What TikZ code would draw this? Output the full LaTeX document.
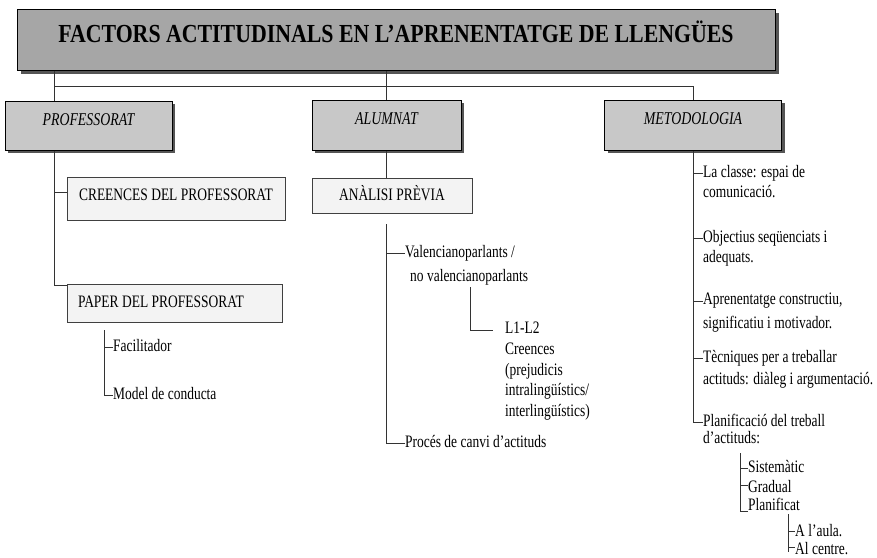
\documentclass[tikz,border=0pt]{standalone}
\usepackage{xcolor}
\usepackage{fontspec}
\setmainfont[FakeStretch=0.77]{Liberation Serif}
\newfontfamily\titlefont[FakeStretch=0.84]{Liberation Serif}
\usepackage{tikz}
\usetikzlibrary{positioning,shadows}

\definecolor{titlegray}{RGB}{166,166,166}
\definecolor{headgray}{RGB}{200,200,200}
\definecolor{boxgray}{RGB}{243,243,243}
\definecolor{shadowgray}{RGB}{85,85,85}

\tikzset{
  titlebox/.style={draw=black,line width=1pt,fill=titlegray,inner sep=0pt,
    drop shadow={shadow xshift=4pt,shadow yshift=-4pt,fill=shadowgray,opacity=1},
    font=\titlefont\fontsize{26}{30}\selectfont\bfseries,text height=18pt,text depth=13pt},
  headbox/.style={draw=black,line width=1pt,fill=headgray,inner sep=0pt,
    drop shadow={shadow xshift=3pt,shadow yshift=-3pt,fill=shadowgray,opacity=1},
    font=\fontsize{18}{21}\selectfont\itshape,text height=12pt,text depth=13pt},
  subbox/.style={draw=black!75,line width=0.8pt,fill=boxgray,inner sep=0pt,
    font=\fontsize{17.5}{21}\selectfont,text height=11pt,text depth=3pt},
  itemtext/.style={anchor=north west,inner sep=0pt,align=left,font=\fontsize{17.5}{20}\selectfont},
  link/.style={draw=black!80,line width=0.9pt}
}

\begin{document}
\begin{tikzpicture}[x=1pt,y=-1pt]
\useasboundingbox (0,0) rectangle (877,557);
\node[titlebox,minimum width=758pt,minimum height=61pt] (title) at (396,39.5) {FACTORS ACTITUDINALS EN L’APRENENTATGE DE LLENGÜES};
\node[headbox,minimum width=167pt,minimum height=49pt] (prof) at (88.5,125.5) {PROFESSORAT};
\node[headbox,minimum width=149pt,minimum height=50pt] (alum) at (386.5,125) {ALUMNAT};
\node[headbox,minimum width=177pt,minimum height=50pt] (metod) at (693,125) {METODOLOGIA};
\node[subbox,minimum width=218pt,minimum height=43pt,text depth=8pt] (creen) at (176,198.5) {CREENCES DEL PROFESSORAT};
\node[subbox,minimum width=215pt,minimum height=38pt] (paper) at (174.5,303) {\makebox[193pt][l]{PAPER DEL PROFESSORAT}};
\node[subbox,minimum width=160pt,minimum height=35pt,text depth=2pt] (anal) at (392,195.5) {ANÀLISI PRÈVIA};

\node[itemtext] (fac) at (113,339) {Facilitador};
\node[itemtext] (mod) at (113,387) {Model de conducta};
\node[itemtext] (val) at (405,245) {Valencianoparlants /\\[4pt]\hspace*{5pt}no valencianoparlants};
\node[itemtext,font=\fontsize{17.5}{20.7}\selectfont] (l1) at (505,322) {L1-L2\\Creences\\(prejudicis\\intralingüístics/\\interlingüístics)};
\node[itemtext] (proc) at (405,435) {Procés de canvi d’actituds};
\node[itemtext] (cl) at (703,165) {La classe: espai de\\comunicació.};
\node[itemtext] (ob) at (703,230) {Objectius seqüenciats i\\adequats.};
\node[itemtext] (ap) at (703,293) {Aprenentatge constructiu,\\[4pt]significatiu i motivador.};
\node[itemtext] (te) at (703,350) {Tècniques per a treballar\\[2pt]actituds: diàleg i argumentació.};
\node[itemtext] (pl) at (703,414) {Planificació del treball\\[-3pt]d’actituds:};
\node[itemtext] (sis) at (748,460) {Sistemàtic};
\node[itemtext] (gra) at (748,480) {Gradual};
\node[itemtext] (pf) at (748,498) {Planificat};
\node[itemtext] (aul) at (795,524) {A l’aula.};
\node[itemtext] (cen) at (795,542.5) {Al centre.};

\coordinate (t1) at (54,86);
\coordinate (p1) at (54,192);
\coordinate (p2) at (54,285);
\coordinate (p3) at (104,330);
\coordinate (p4) at (104,347);
\coordinate (p5) at (104,395);
\coordinate (a0) at (386,224);
\coordinate (a1) at (386,253);
\coordinate (a2) at (386,443);
\coordinate (a3) at (470,287);
\coordinate (a4) at (493,330);
\coordinate (m1) at (693,173);
\coordinate (m2) at (693,238);
\coordinate (m3) at (693,301);
\coordinate (m4) at (693,358);
\coordinate (m5) at (693,422);
\coordinate (s0) at (740,453);
\coordinate (s1) at (740,468);
\coordinate (s2) at (740,485);
\coordinate (s3) at (740,511);
\coordinate (u0) at (788,514);
\coordinate (u1) at (788,531);
\coordinate (u2) at (788,547);
\coordinate (u3) at (788,552);

\draw[link] (title.south -| t1) -- (prof.north -| t1);
\draw[link] (t1) -| (metod.north);
\draw[link] (title.south -| alum.north) -- (alum.north);
\draw[link] (prof.south -| p2) -- (p2) -- (paper.west |- p2);
\draw[link] (p1) -- (creen.west |- p1);
\draw[link] (p3) -- (p5) -- (mod.west |- p5);
\draw[link] (p4) -- (fac.west |- p4);
\draw[link] (alum.south -| a0) -- (anal.north -| a0);
\draw[link] (a0) -- (a2) -- (proc.west |- a2);
\draw[link] (a1) -- (val.west |- a1);
\draw[link] (a3) |- (a4);
\draw[link] (metod.south) -- (m5) -- (pl.west |- m5);
\draw[link] (m1) -- (cl.west |- m1);
\draw[link] (m2) -- (ob.west |- m2);
\draw[link] (m3) -- (ap.west |- m3);
\draw[link] (m4) -- (te.west |- m4);
\draw[link] (s0) -- (s3) -- (pf.west |- s3);
\draw[link] (s1) -- (sis.west |- s1);
\draw[link] (s2) -- (gra.west |- s2);
\draw[link] (u0) -- (u3);
\draw[link] (u1) -- (aul.west |- u1);
\draw[link] (u2) -- (cen.west |- u2);
\end{tikzpicture}
\end{document}
